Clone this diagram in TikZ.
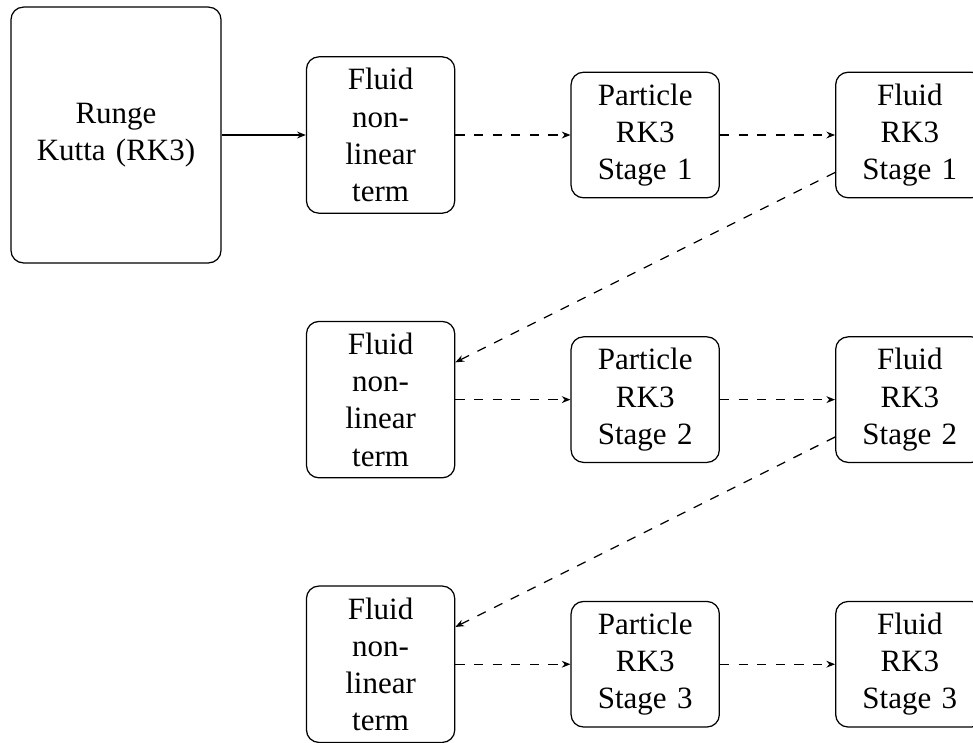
\documentclass[tikz,border=0pt]{standalone}
\usepackage{fontspec}
\setmainfont{Liberation Serif}
\usepackage{tikz}
\usetikzlibrary{arrows.meta, positioning}

\begin{document}
\begin{tikzpicture}[
  block/.style={rectangle, draw, rounded corners, text width=1.4cm, align=center, inner xsep=4pt, inner ysep=3.7pt},
  rkblock/.style={block, text width=2.1cm, minimum height=2.9cm},
  flow/.style={-{Stealth[length=2.8pt, width=2.2pt]}},
  node distance=3cm,
  on grid
]
\useasboundingbox (-37.42pt,43.55pt) rectangle (276.45pt,-195.81pt);
\node[rkblock] (rk) {Runge Kutta (RK3)};
\node[block, right=of rk] (fn1) {Fluid non-linear term};
\node[block, right=of fn1] (pr1) {Particle RK3 Stage 1};
\node[block, right=of pr1] (fr1) {Fluid RK3 Stage 1};
\node[block, below=of fn1] (fn2) {Fluid non-linear term};
\node[block, right=of fn2] (pr2) {Particle RK3 Stage 2};
\node[block, right=of pr2] (fr2) {Fluid RK3 Stage 2};
\node[block, below=of fn2] (fn3) {Fluid non-linear term};
\node[block, right=of fn3] (pr3) {Particle RK3 Stage 3};
\node[block, right=of pr3] (fr3) {Fluid RK3 Stage 3};
\draw[flow] (rk) -- (fn1);
\draw[flow, dashed] (fn1) -- (pr1);
\draw[flow, dashed] (pr1) -- (fr1);
\draw[flow, dashed] (fr1) -- (fn2);
\draw[flow, dashed] (fn2) -- (pr2);
\draw[flow, dashed] (pr2) -- (fr2);
\draw[flow, dashed] (fr2) -- (fn3);
\draw[flow, dashed] (fn3) -- (pr3);
\draw[flow, dashed] (pr3) -- (fr3);
\end{tikzpicture}
\end{document}
